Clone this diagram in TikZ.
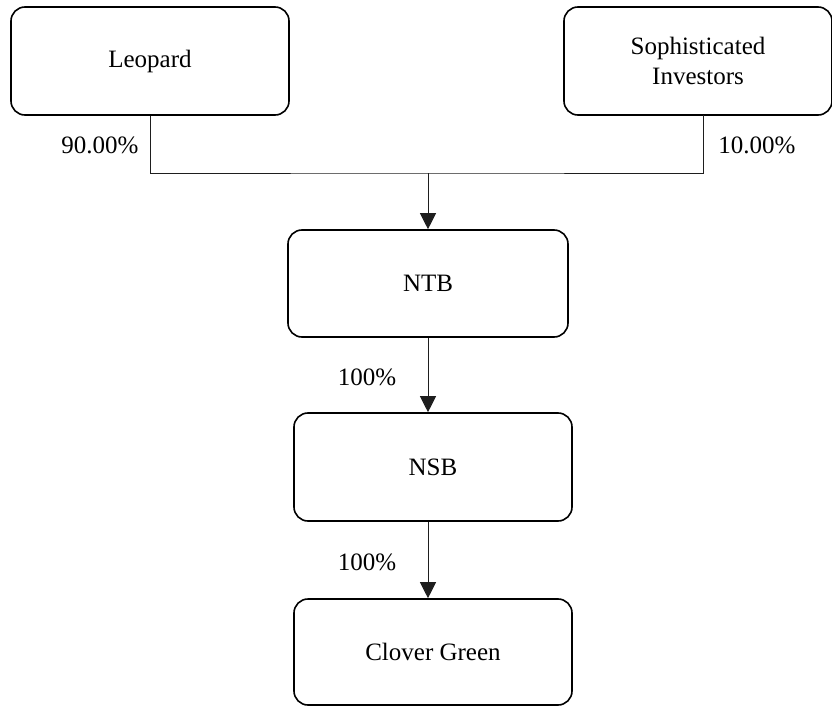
\documentclass[tikz,border=0pt]{standalone}
\usepackage{fontspec}
\setmainfont{Liberation Serif}
\usetikzlibrary{arrows.meta}
\definecolor{boxline}{RGB}{0,0,0}
\definecolor{linkline}{RGB}{30,30,30}

\begin{document}
\begin{tikzpicture}[x=0.5pt, y=-0.5pt,
    entity/.style={draw=boxline, line width=0.8pt, rounded corners=7pt,
      inner sep=0pt, align=center, font=\fontsize{12.5}{15}\selectfont},
    link/.style={draw=linkline, line width=0.5pt},
    share/.style={font=\fontsize{12.5}{15}\selectfont, inner sep=0pt}]
  \useasboundingbox (0,0) rectangle (832,707);
  % owners
  \node[entity, minimum width=139pt, minimum height=54pt] (leopard) at (150,61) {Leopard};
  \node[entity, minimum width=134pt, minimum height=54pt] (investors) at (698,61) {Sophisticated\\Investors};
  % group chain
  \node[entity, minimum width=140pt, minimum height=53.5pt] (ntb) at (428,283.5) {NTB};
  \node[entity, minimum width=139pt, minimum height=54pt] (nsb) at (433,467) {NSB};
  \node[entity, minimum width=139pt, minimum height=53pt] (clover) at (433,652) {Clover Green};
  % connectors
  \coordinate (join) at (428,173);
  \coordinate (invfoot) at (703,115);
  \draw[link] (leopard.south) |- (join) -| (invfoot);
  \draw[link, -{Triangle[length=8pt,width=8pt]}] (join) -- (ntb.north);
  \draw[link, -{Triangle[length=8pt,width=8pt]}] (ntb.south) -- (ntb.south |- nsb.north);
  \draw[link, -{Triangle[length=8pt,width=8pt]}] (ntb.south |- nsb.south) -- (ntb.south |- clover.north);
  % percentages
  \node[share] (pctleo) at (100,145) {90.00\%};
  \node[share] (pctinv) at (757,145) {10.00\%};
  \node[share] (pctntb) at (367,377) {100\%};
  \node[share] (pctnsb) at (367,562) {100\%};
\end{tikzpicture}
\end{document}
